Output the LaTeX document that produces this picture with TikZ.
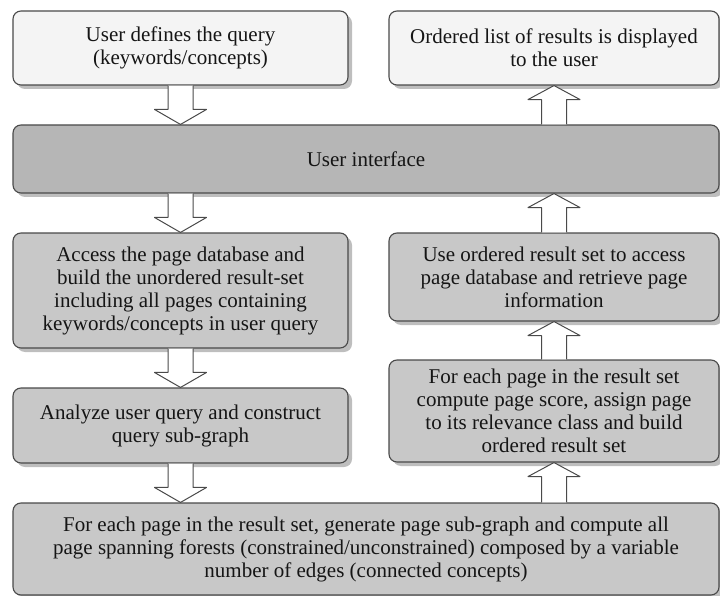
\documentclass[tikz,border=0pt]{standalone}
\usepackage{fontspec}
\setmainfont{Liberation Serif}
\usetikzlibrary{shadows,calc}
\definecolor{palebox}{HTML}{F4F4F4}
\definecolor{darkbox}{HTML}{B6B6B6}
\definecolor{midbox}{HTML}{C8C8C8}
\definecolor{shadowgray}{HTML}{BEBEBE}
\definecolor{edgegray}{HTML}{4A4A4A}
\definecolor{inkgray}{HTML}{151515}
\newcommand{\blkdown}[3]{%
  \draw[blk] let \p1=(#3.center), \p2=(#1.south), \p3=(#2.north) in
    (\x1-12.5pt,\y2) -- (\x1-12.5pt,\y3+15pt) -- (\x1-26pt,\y3+15pt) -- (\x1,\y3)
    -- (\x1+26pt,\y3+15pt) -- (\x1+12.5pt,\y3+15pt) -- (\x1+12.5pt,\y2);}
\newcommand{\blkup}[3]{%
  \draw[blk] let \p1=(#3.center), \p2=(#1.north), \p3=(#2.south) in
    (\x1-12.5pt,\y2) -- (\x1-12.5pt,\y3-14pt) -- (\x1-26pt,\y3-14pt) -- (\x1,\y3)
    -- (\x1+26pt,\y3-14pt) -- (\x1+12.5pt,\y3-14pt) -- (\x1+12.5pt,\y2);}
\begin{document}
\begin{tikzpicture}[x=1pt,y=-1pt,line join=round,
  panel/.style={draw=edgegray,line width=1.1pt,rounded corners=8pt,align=center,
    text=inkgray,font=\fontsize{21}{23}\selectfont,inner sep=0pt,
    drop shadow={shadow xshift=4pt,shadow yshift=-4pt,fill=shadowgray,opacity=1}},
  blk/.style={draw=edgegray,line width=1pt,fill=white}]
  \useasboundingbox (0,0) rectangle (720,596);
  \node[panel,fill=palebox,minimum width=335pt,minimum height=74pt] (query) at (180.5,48)
    {User defines the query\\(keywords/concepts)};
  \node[panel,fill=palebox,minimum width=330pt,minimum height=74pt] (display) at (554,48)
    {Ordered list of results is displayed\\to the user};
  \node[panel,fill=darkbox,minimum width=706pt,minimum height=68pt] (ui) at (366,159)
    {User interface};
  \node[panel,fill=midbox,minimum width=335pt,minimum height=115pt] (access) at (180.5,290.5)
    {Access the page database and\\build the unordered result-set\\including all pages containing\\keywords/concepts in user query};
  \node[panel,fill=midbox,minimum width=330pt,minimum height=88pt] (retrieve) at (554,277)
    {Use ordered result set to access\\page database and retrieve page\\information};
  \node[panel,fill=midbox,minimum width=335pt,minimum height=75pt] (analyze) at (180.5,425.5)
    {Analyze user query and construct\\query sub-graph};
  \node[panel,fill=midbox,minimum width=330pt,minimum height=102pt] (score) at (554,411)
    {For each page in the result set\\compute page score, assign page\\to its relevance class and build\\ordered result set};
  \node[panel,fill=midbox,minimum width=706pt,minimum height=92pt] (forests) at (366,549)
    {For each page in the result set, generate page sub-graph and compute all\\page spanning forests (constrained/unconstrained) composed by a variable\\number of edges (connected concepts)};
  \blkdown{query}{ui}{query}
  \blkdown{ui}{access}{access}
  \blkdown{access}{analyze}{analyze}
  \blkdown{analyze}{forests}{analyze}
  \blkup{forests}{score}{score}
  \blkup{score}{retrieve}{retrieve}
  \blkup{retrieve}{ui}{retrieve}
  \blkup{ui}{display}{display}
\end{tikzpicture}
\end{document}
